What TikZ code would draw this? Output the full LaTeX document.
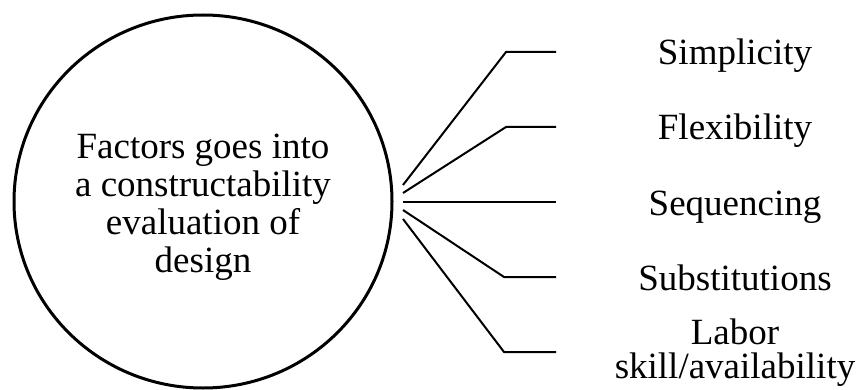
\documentclass[tikz,border=0pt]{standalone}
\usepackage{fontspec}
\setmainfont{Liberation Serif}
\usetikzlibrary{positioning,shapes.geometric}

\begin{document}
\begin{tikzpicture}[
  x=0.5pt, y=-0.5pt,
  every node/.style={font=\fontsize{18.5}{19}\selectfont},
  hub/.style={draw, line width=1.5pt, ellipse, inner sep=0pt,
              minimum width=189pt, minimum height=186.5pt,
              align=center},
  item/.style={anchor=base, inner sep=0pt, align=center},
  leg/.style={line width=1pt}
]
\useasboundingbox (0,0) rectangle (856,390);

%% --- Centre -------------------------------------------------
\node[hub] (factors) at (203,201.5)
     {\rule{0pt}{18pt}Factors goes into\\a constructability\\evaluation of\\design};

%% --- Fan start points ---------------------------------------
\coordinate (s1) at (403,185);
\coordinate (s2) at (403,193);
\coordinate (s3) at (403,202);
\coordinate (s4) at (403,210);
\coordinate (s5) at (403,219);

%% --- Bends and ends -----------------------------------------
\coordinate (k1) at (506,52);
\coordinate (k2) at (506,127);
\coordinate (k4) at (504,277);
\coordinate (k5) at (504,352);

\coordinate (e1) at (556,52);
\coordinate (e2) at (556,127);
\coordinate (e3) at (556,202);
\coordinate (e4) at (556,277);
\coordinate (e5) at (556,352);

%% --- Factor labels ------------------------------------------
\node[item] (simp)  at (735,65)  {Simplicity};
\node[item] (flex)  at (735,140) {Flexibility};
\node[item] (seq)   at (735,215) {Sequencing};
\node[item] (subst) at (735,290) {Substitutions};
\node[item, font=\fontsize{18.5}{17}\selectfont] (labor) at (735,378)
     {Labor\\skill/availability};

%% --- Fan lines ----------------------------------------------
\draw[leg] (s1) -- (k1) -- (e1);
\draw[leg] (s2) -- (k2) -- (e2);
\draw[leg] (s3) -- (e3);
\draw[leg] (s4) -- (k4) -- (e4);
\draw[leg] (s5) -- (k5) -- (e5);

\end{tikzpicture}
\end{document}
